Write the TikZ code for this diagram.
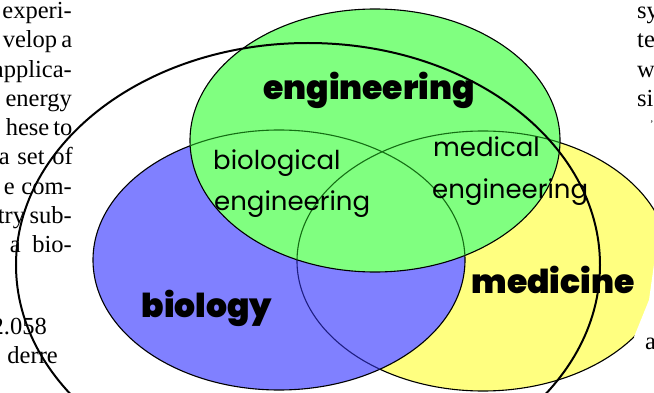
\documentclass[tikz,border=0pt]{standalone}
\usepackage{fontspec}
\setmainfont{Liberation Serif}
\newfontfamily\labelfont{Poppins}
\newfontfamily\heavyfont{Poppins Black}
\definecolor{engfill}{RGB}{128,255,128}
\definecolor{biofill}{RGB}{128,128,255}
\definecolor{medfill}{RGB}{255,255,128}
\definecolor{engline}{RGB}{20,110,20}
\definecolor{bioline}{RGB}{30,30,130}
\begin{document}
\begin{tikzpicture}[x=1pt,y=-1pt,
  setline/.style={draw=black,line width=1.1pt},
  hidden/.style={line width=1.1pt},
  biglabel/.style={font=\heavyfont\fontsize{33}{33}\selectfont,inner sep=0pt,anchor=base},
  sublabel/.style={font=\labelfont\fontsize{26}{26}\selectfont,inner sep=0pt,anchor=base west},
  bodytext/.style={font=\fontsize{24.5}{24.5}\selectfont,inner sep=0pt,anchor=base east},
  righttext/.style={font=\fontsize{24.5}{24.5}\selectfont,inner sep=0pt,anchor=base west},
  outerring/.style={draw=black,line width=2pt}]
\useasboundingbox (0,0) rectangle (654,393);
\clip (0,0) rectangle (654,393);
\fill[white] (0,0) rectangle (654,393);

% set centres
\coordinate (cEng) at (375,140.5);
\coordinate (cBio) at (279,260);
\coordinate (cMed) at (483,261);
\coordinate (cRing) at (308,265);

% medicine set
\path[setline,fill=medfill] (cMed) ellipse [x radius=186,y radius=130];
% text-wrap cut on the right
\fill[white] (656,250) -- (649,300) -- (634,337) -- (656,380) -- cycle;

% biology set, with medicine's rim showing through
\path[setline,fill=biofill] (cBio) ellipse [x radius=186,y radius=130];
\begin{scope}
  \clip (cBio) ellipse [x radius=186,y radius=130];
  \draw[hidden,draw=bioline] (cMed) ellipse [x radius=186,y radius=130];
\end{scope}

% engineering set, with both rims showing through
\path[setline,fill=engfill] (cEng) ellipse [x radius=185,y radius=131.5];
\begin{scope}
  \clip (cEng) ellipse [x radius=185,y radius=131.5];
  \draw[hidden,draw=engline] (cMed) ellipse [x radius=186,y radius=130];
  \draw[hidden,draw=engline] (cBio) ellipse [x radius=186,y radius=130];
\end{scope}

% set labels
\node[biglabel] (lEng) at (369,100) {engineering};
\node[biglabel] (lBio) at (207,317) {biology};
\node[biglabel] (lMed) at (553,293) {medicine};
\node[sublabel] (lBioEng1) at (213,170) {biological};
\node[sublabel] (lBioEng2) at (214,211) {engineering};
\node[sublabel] (lMedEng1) at (433,157) {medical};
\node[sublabel] (lMedEng2) at (432,199) {engineering};

% page text beside the figure
\node[bodytext] (t1) at (72,19) {experi-};
\node[bodytext] (t2) at (72,48) {\makebox[69pt][s]{velop a}};
\node[bodytext] (t3) at (72,78) {applica-};
\node[bodytext] (t4) at (72,107) {energy};
\node[bodytext] (t5) at (72,136) {\makebox[66pt][s]{hese to}};
\node[bodytext] (t6) at (73,165) {\makebox[74pt][s]{a set of}};
\node[bodytext] (t7) at (72,195) {\makebox[68pt][s]{e com-}};
\node[bodytext] (t8) at (72,224) {\makebox[74pt][s]{try sub-}};
\node[bodytext] (t9) at (72,253) {\makebox[62pt][s]{a bio-}};
\node[bodytext] (t10) at (47,334) {2.058};
\node[bodytext] (t11) at (58,363) {derre};
\node[righttext] (r1) at (637,19) {sy};
\node[righttext] (r2) at (637,48) {te};
\node[righttext] (r3) at (637,78) {w};
\node[righttext] (r4) at (637,107) {si};
\node[righttext,font=\fontsize{10}{10}\selectfont] (r5) at (650,128) {'};
\node[righttext] (r6) at (645,349) {a};

% large outline ring over everything
\draw[outerring] (cRing) ellipse [x radius=292,y radius=222];
\end{tikzpicture}
\end{document}
